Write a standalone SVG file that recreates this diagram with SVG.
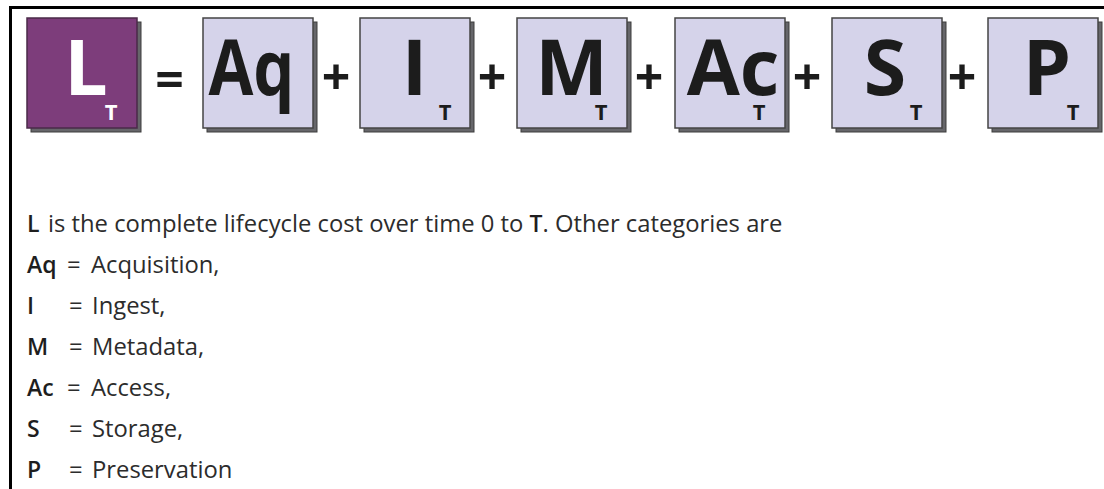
<svg xmlns="http://www.w3.org/2000/svg" width="1104" height="489" viewBox="0 0 1104 489">
<style>
.sh{fill:#66666a;stroke:#3c3c3c;stroke-width:1}
.bx{fill:#d5d3ea;stroke:#444;stroke-width:1.5}
.bxL{fill:#7d3d7b;stroke:#4a2a48;stroke-width:1.5}
.big{font-family:"Open Sans","Liberation Sans",sans-serif;font-weight:700;font-size:77px;fill:#1c1c1c;text-anchor:middle}
.sub{font-family:"Open Sans","Liberation Sans",sans-serif;font-weight:700;font-size:22px;fill:#1c1c1c;text-anchor:middle}
.op{font-family:"Open Sans","Liberation Sans",sans-serif;font-weight:700;font-size:50px;fill:#1c1c1c;text-anchor:middle}
.lab{font-family:"Open Sans","Liberation Sans",sans-serif;font-weight:600;font-size:23px;fill:#1e1e1e}
.txt{font-family:"Open Sans","Liberation Sans",sans-serif;font-weight:400;font-size:23.8px;fill:#2c2c2c}
</style>
<rect width="1104" height="489" fill="#fff"/>
<rect x="9" y="6" width="1095" height="3" fill="#000"/>
<rect x="9" y="6" width="3" height="483" fill="#000"/>

<g id="node-L">
<rect class="sh" x="31" y="22" width="110" height="110"/>
<rect class="bxL" x="27" y="18" width="110" height="110"/>
<text class="big" x="86" y="95" style="fill:#fff">L</text>
<text class="sub" x="111" y="120" style="fill:#fff">T</text>
</g>
<text class="op" x="169.5" y="97">=</text>
<g id="node-Aq">
<rect class="sh" x="207" y="22" width="110" height="110"/>
<rect class="bx" x="203" y="18" width="110" height="110"/>
<text class="big" x="251.5" y="95" textLength="86" lengthAdjust="spacingAndGlyphs">Aq</text>
</g>
<text class="op" x="336" y="95">+</text>
<g id="node-I">
<rect class="sh" x="364" y="22" width="110" height="110"/>
<rect class="bx" x="360" y="18" width="110" height="110"/>
<text class="big" x="414.5" y="95">I</text>
<text class="sub" x="445" y="120">T</text>
</g>
<text class="op" x="492" y="95">+</text>
<g id="node-M">
<rect class="sh" x="521" y="22" width="110" height="110"/>
<rect class="bx" x="517" y="18" width="110" height="110"/>
<text class="big" x="571.5" y="95">M</text>
<text class="sub" x="601" y="120">T</text>
</g>
<text class="op" x="649" y="95">+</text>
<g id="node-Ac">
<rect class="sh" x="679" y="22" width="110" height="110"/>
<rect class="bx" x="675" y="18" width="110" height="110"/>
<text class="big" x="733" y="95">Ac</text>
<text class="sub" x="759" y="120">T</text>
</g>
<text class="op" x="807" y="95">+</text>
<g id="node-S">
<rect class="sh" x="836" y="22" width="110" height="110"/>
<rect class="bx" x="832" y="18" width="110" height="110"/>
<text class="big" x="885" y="95">S</text>
<text class="sub" x="916" y="120">T</text>
</g>
<text class="op" x="962" y="95">+</text>
<g id="node-P">
<rect class="sh" x="992" y="22" width="110" height="110"/>
<rect class="bx" x="988" y="18" width="110" height="110"/>
<text class="big" x="1047" y="95">P</text>
<text class="sub" x="1073" y="120">T</text>
</g>

<g id="legend">
<text x="27" y="232"><tspan class="lab">L</tspan><tspan class="txt" x="48">is the complete lifecycle cost over time 0 to </tspan><tspan class="lab">T</tspan><tspan class="txt">. Other categories are</tspan></text>
<text class="lab" x="27" y="273">Aq</text><text class="txt" x="67" y="273">= <tspan x="91">Acquisition,</tspan></text>
<text class="lab" x="27" y="314">I</text><text class="txt" x="69" y="314">= <tspan x="92">Ingest,</tspan></text>
<text class="lab" x="27" y="355">M</text><text class="txt" x="69" y="355">= <tspan x="92">Metadata,</tspan></text>
<text class="lab" x="27" y="396">Ac</text><text class="txt" x="67" y="396">= <tspan x="91">Access,</tspan></text>
<text class="lab" x="27" y="437">S</text><text class="txt" x="69" y="437">= <tspan x="92">Storage,</tspan></text>
<text class="lab" x="27" y="478">P</text><text class="txt" x="69" y="478">= <tspan x="92">Preservation</tspan></text>
</g>
</svg>
